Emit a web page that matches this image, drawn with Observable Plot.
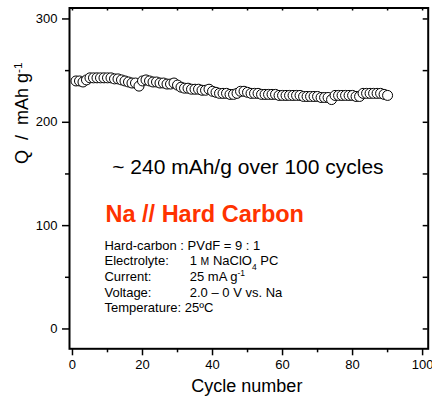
<!DOCTYPE html>
<html><head><meta charset="utf-8">
<script src="https://cdn.jsdelivr.net/npm/d3@7"></script>
<script src="https://cdn.jsdelivr.net/npm/@observablehq/plot@0.6"></script>
<style>body{margin:0;background:#fff}</style>
</head><body><div id="chart"></div>
<script>
const cycles = [1,2,3,4,5,6,7,8,9,10,11,12,13,14,15,16,17,18,19,20,
  21,22,23,24,25,26,27,28,29,30,31,32,33,34,35,36,37,38,39,40,
  41,42,43,44,45,46,47,48,49,50,51,52,53,54,55,56,57,58,59,60,
  61,62,63,64,65,66,67,68,69,70,71,72,73,74,75,76,77,78,79,80,
  81,82,83,84,85,86,87,88,89,90];
const capacity = [240,240,239,241,243,243,243,243,243,243,243,242,242,241,240,239,238,238,235,240,
  241,240,239,239,238,238,237,237,238,236,234,233,233,232,232,232,231,231,232,230,
  229,228,228,228,227,227,228,230,230,229,228,228,228,227,227,227,227,227,226,226,
  226,226,226,226,226,225,225,225,225,225,224,224,224,222,226,226,226,226,226,226,
  225,225,228,228,228,228,228,228,227,226];
const xMajorTicks = [0,20,40,60,80,100];
const xMinorTicks = [10,30,50,70,90];
const yMajorTicks = [0,100,200,300];
const yMinorTicks = [50,150,250];
const xTitle = "Cycle number";
const yTitle = "Q\u00a0 /\u00a0 mAh g^{-1}";
const headline = "~ 240 mAh/g over 100 cycles";
const systemTitle = "Na // Hard Carbon";
const condLabels = ["Hard-carbon : PVdF = 9 : 1", "Electrolyte:", "Current:", "Voltage:", "Temperature: 25ºC"];
const condValues = ["1 %{M} NaClO_{4} PC", "25 mA g^{-1}", "2.0 – 0 V vs. Na"];

const table = cycles.map((c, i) => ({cycle: c, q: capacity[i]}));

const mL = 69, mR = 4.3, mT = 7.5, mB = 48.7, W = 432, H = 397;
const plotW = W - mL - mR, plotH = H - mT - mB;

const chart = Plot.plot({
  width: W, height: H,
  marginLeft: mL, marginRight: mR, marginTop: mT, marginBottom: mB,
  style: {fontFamily: "'Liberation Sans', Arial, Helvetica, sans-serif", fontSize: "13px", color: "#000", background: "#fff"},
  x: {domain: [-0.85, 101.6], label: null},
  y: {domain: [-19.2, 310.6], label: null},
  marks: [
    Plot.axisX(xMajorTicks, {anchor: "bottom", tickSize: 7, tickPadding: 4, strokeWidth: 1.5, fontSize: 13}),
    Plot.axisX(xMinorTicks, {anchor: "bottom", tickSize: 4, tickFormat: () => "", strokeWidth: 1.5}),
    Plot.axisY(yMajorTicks, {anchor: "left", tickSize: 7, tickPadding: 5, strokeWidth: 1.5, fontSize: 13}),
    Plot.axisY(yMinorTicks, {anchor: "left", tickSize: 4, tickFormat: () => "", strokeWidth: 1.5}),
    Plot.tickX([...xMajorTicks, ...xMinorTicks], {x: d => d, insetBottom: plotH - 3, strokeWidth: 1.5}),
    Plot.tickY([...yMajorTicks, ...yMinorTicks], {y: d => d, insetLeft: plotW - 5, strokeWidth: 1.5}),
    Plot.frame({stroke: "#000", strokeWidth: 2}),
    Plot.dot(table, {x: "cycle", y: "q", r: 5, fill: "#fff", stroke: "#000", strokeWidth: 1}),
    Plot.text([headline], {x: 11.35, y: 149.5, text: d => d, textAnchor: "start", lineAnchor: "bottom", fontSize: 21}),
    Plot.text([systemTitle], {x: 9.43, y: 103.4, text: d => d, textAnchor: "start", lineAnchor: "bottom", fontSize: 23.5, fontWeight: "bold", fill: "#ff3300"}),
    Plot.text([condLabels.join("\n")], {x: 9.14, y: 16.2, text: d => d, textAnchor: "start", lineAnchor: "bottom", lineHeight: 1.2, fontSize: 13}),
    Plot.text([condValues.join("\n")], {x: 33.5, y: 31.3, text: d => d, textAnchor: "start", lineAnchor: "bottom", lineHeight: 1.2, fontSize: 13}),
    Plot.text([xTitle], {frameAnchor: "bottom", text: d => d, dx: -2, dy: 42.7, lineAnchor: "bottom", fontSize: 18}),
    Plot.text([yTitle], {frameAnchor: "left", text: d => d, rotate: -90, dx: -46.8, dy: -14.4, fontSize: 18})
  ]
});

function richify(root) {
  const re = /([\^_%])\{([^}]*)\}/g;
  const mk = s => { const t = document.createElementNS("http://www.w3.org/2000/svg", "tspan"); t.textContent = s; return t; };
  root.querySelectorAll("text, tspan").forEach(el => {
    if (el.children.length) return;
    const s = el.textContent;
    if (!/[\^_%]\{/.test(s)) return;
    el.textContent = "";
    let last = 0, m;
    re.lastIndex = 0;
    while ((m = re.exec(s))) {
      if (m.index > last) el.appendChild(mk(s.slice(last, m.index)));
      const t = mk(m[2]);
      t.style.fontSize = m[1] === "%" ? "0.8em" : "0.65em";
      if (m[1] === "^") t.setAttribute("baseline-shift", "super");
      if (m[1] === "_") t.setAttribute("baseline-shift", "sub");
      el.appendChild(t);
      last = re.lastIndex;
    }
    if (last < s.length) el.appendChild(mk(s.slice(last)));
  });
}
richify(chart);
document.getElementById("chart").appendChild(chart);
</script>
</body></html>
